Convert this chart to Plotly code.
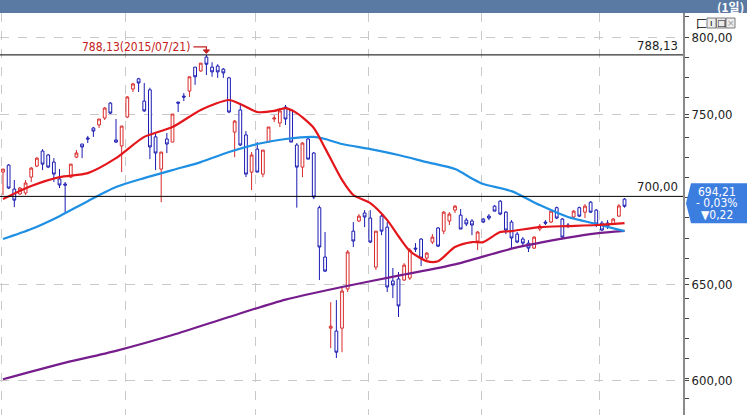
import math
import plotly.graph_objects as go

# ---------------- data ----------------
opens = [714.4, 718.6, 704.3, 701.4, 702.0, 711.4, 718.0, 727.1, 724.7, 720.4,
         710.3, 707.3, 711.4, 723.4, 731.4, 735.1, 741.3, 743.2, 747.5, 756.9,
         733.9, 730.2, 748.1, 765.9, 772.5, 758.2, 765.4, 735.8, 716.2, 734.5,
         732.6, 757.6, 761.4, 764.6, 780.1, 777.6, 786.7, 780.1, 780.8, 778.8,
         773.1, 738.8, 752.6, 737.0, 714.4, 728.3, 713.2, 732.6, 746.9, 744.4,
         754.4, 752.6, 730.8, 717.4, 734.5, 725.9, 693.4, 665.3, 626.8, 625.3,
         626.8, 647.7, 679.9, 685.7, 690.3, 687.4, 659.7, 688.5, 682.2, 652.1,
         653.2, 652.6, 653.7, 670.3, 675.4, 664.7, 673.7, 681.7, 679.9, 685.7,
         692.0, 689.1, 686.2, 685.7, 674.3, 686.8, 688.5, 694.3, 697.2, 690.8,
         685.1, 678.2, 675.4, 673.1, 670.3, 681.1, 685.1, 685.1, 693.4, 686.8,
         683.4, 688.0, 693.4, 690.8, 696.6, 692.0, 684.5, 684.5, 683.9, 688.5,
         698.4]
highs = [716.2, 719.2, 709.7, 705.5, 709.7, 717.4, 723.4, 728.3, 725.3, 722.8,
         716.2, 708.5, 719.2, 727.7, 731.4, 736.4, 741.9, 746.9, 754.4, 757.6,
         746.9, 742.5, 761.4, 769.8, 773.1, 769.8, 766.7, 738.8, 726.5, 738.2,
         750.0, 757.6, 763.3, 773.8, 780.1, 782.7, 788.13, 783.3, 782.0, 779.5,
         773.8, 746.3, 755.7, 739.4, 726.5, 732.6, 727.7, 741.9, 749.4, 753.8,
         755.7, 753.2, 732.0, 732.6, 735.1, 726.5, 694.6, 679.4, 640.6, 641.7,
         648.8, 669.2, 685.1, 689.7, 692.0, 692.0, 679.9, 689.7, 685.1, 659.2,
         657.0, 661.9, 670.3, 673.1, 675.9, 668.1, 678.2, 682.2, 691.4, 690.8,
         694.9, 692.6, 687.4, 686.8, 679.9, 687.4, 689.7, 694.9, 697.8, 691.4,
         686.2, 679.4, 676.5, 674.8, 677.0, 684.0, 686.2, 692.0, 694.0, 687.4,
         684.5, 692.0, 694.0, 695.5, 697.2, 692.6, 685.7, 686.2, 687.4, 695.5,
         699.0]
lows = [700.8, 704.3, 693.7, 700.8, 700.8, 708.5, 717.4, 715.6, 716.8, 708.5,
        704.9, 690.8, 710.8, 722.8, 722.8, 732.0, 735.8, 741.3, 746.3, 750.0,
        732.0, 714.4, 747.5, 764.0, 764.0, 751.3, 722.2, 715.6, 696.6, 725.9,
        732.6, 751.3, 758.2, 760.8, 768.6, 777.0, 775.0, 773.8, 773.1, 773.1,
        750.6, 723.4, 730.2, 711.4, 703.7, 714.4, 711.4, 732.6, 745.0, 741.9,
        743.2, 732.6, 693.4, 711.4, 722.2, 698.4, 652.6, 657.0, 616.4, 611.3,
        614.3, 646.1, 670.9, 685.1, 682.2, 673.1, 658.1, 677.6, 646.1, 642.8,
        632.7, 652.1, 652.6, 668.1, 660.3, 662.5, 672.6, 670.9, 678.2, 683.4,
        690.3, 681.1, 682.8, 677.6, 669.2, 684.5, 686.2, 691.4, 689.1, 678.2,
        670.3, 673.1, 670.9, 668.1, 669.8, 679.9, 683.4, 684.5, 686.8, 676.0,
        681.7, 687.4, 688.0, 687.4, 690.3, 682.2, 679.9, 681.1, 683.4, 688.0,
        693.4]
closes = [716.2, 704.9, 697.8, 704.9, 707.9, 716.8, 722.8, 719.2, 717.4, 713.2,
          706.7, 706.7, 719.2, 725.9, 729.6, 734.5, 739.4, 746.9, 753.8, 750.6,
          732.6, 742.5, 760.8, 769.2, 769.8, 752.0, 729.6, 725.9, 726.5, 731.4,
          750.0, 756.9, 760.8, 773.8, 773.8, 782.7, 782.0, 777.0, 777.0, 776.3,
          751.3, 745.6, 730.8, 713.2, 724.7, 714.4, 727.7, 741.9, 747.5, 752.0,
          746.9, 732.6, 717.4, 732.0, 722.2, 699.6, 670.9, 657.5, 627.8, 614.3,
          646.6, 668.1, 674.3, 688.5, 688.0, 673.7, 679.9, 679.9, 648.8, 649.9,
          638.6, 660.8, 669.2, 669.8, 664.7, 667.5, 676.5, 671.4, 690.8, 689.7,
          694.3, 681.1, 684.0, 683.4, 679.4, 685.1, 687.4, 691.4, 689.7, 680.5,
          676.0, 673.7, 673.1, 670.3, 676.5, 682.8, 684.5, 691.4, 687.4, 676.5,
          682.8, 691.4, 688.5, 694.3, 690.8, 684.0, 680.5, 682.8, 686.8, 694.43,
          694.21]

# moving averages (candle index, value)
ma20_idx = [0, 5, 10, 15, 20, 25, 30, 35, 40, 42, 45, 48, 50, 52, 55, 57, 60, 62,
            65, 68, 70, 72, 75, 77, 80, 83, 85, 88, 90, 95, 100, 105, 110]
ma20_val = [698.4, 706.1, 711.4, 713.8, 722.8, 735.8, 741.9, 752.6, 758.9, 756.3,
            751.3, 752.0, 753.8, 750.6, 741.3, 728.9, 709.7, 700.8, 696.0, 686.2,
            677.0, 668.7, 663.0, 663.0, 670.9, 673.7, 673.7, 679.4, 679.9, 682.2,
            682.8, 683.4, 684.5]
ma60_idx = [0, 5, 10, 15, 20, 25, 30, 35, 40, 45, 50, 55, 57, 60, 65, 70, 75, 80,
            83, 85, 90, 95, 100, 105, 110]
ma60_val = [675.4, 681.1, 688.5, 697.2, 705.5, 710.8, 715.6, 720.4, 726.5, 731.4,
            734.5, 735.8, 734.5, 731.4, 728.3, 724.7, 720.4, 716.2, 710.6, 707.3,
            703.1, 694.9, 688.0, 684.0, 679.9]
ma120_idx = [0, 10, 20, 30, 40, 50, 60, 70, 80, 90, 100, 105, 110]
ma120_val = [600.5, 608.2, 615.0, 623.2, 632.7, 642.0, 648.8, 655.0, 661.2, 670.0,
             676.2, 678.6, 680.0]

month_starts = [0, 22, 45, 65, 85, 106]
peak_value = 788.13
peak_label = "788,13(2015/07/21)"
ref_level = 700.0
last_close = 694.21
change_pct = "- 0,03%"
change_abs = "▼0,22"
ytick_vals = [600, 650, 750, 800]
ytick_text = ["600,00", "650,00", "750,00", "800,00"]
period_label = "(1일)"

# ---------------- styling ----------------
W, H = 747, 415
ML, MR, MT, MB = 0, 64, 13, 0
PW, PH = W - ML - MR, H - MT - MB
RED = "#D92B2B"
BLUE = "#1B1BB3"
MA20_C = "#E3161B"
MA60_C = "#1E8FE3"
MA120_C = "#761C8C"
FONT = "DejaVu Sans Condensed, Liberation Sans Narrow, Arial Narrow, sans-serif"
Y0, Y1 = math.log10(582.8), math.log10(816.3)
X0, X1 = -0.53, 120.35

n = len(closes)
idx = list(range(n))
peak_idx = max(idx, key=lambda i: highs[i])


def ypaper(v):
    return (math.log10(v) - Y0) / (Y1 - Y0)


def px2p(dy):
    return dy / PH


def pyp(py):  # pixel row from top of the page -> paper y
    return (H - MB - py) / PH


# minor tick marks every ~20 px along the price axis (decoration only)
PX_PER_LN = PH / ((Y1 - Y0) * math.log(10))
minor_vals = [800 * math.exp(-20.1 * k / PX_PER_LN) for k in range(-1, 19)]

fig = go.Figure()
fig.add_trace(go.Candlestick(
    x=idx, open=opens, high=highs, low=lows, close=closes,
    increasing=dict(line=dict(color=RED, width=1), fillcolor="white"),
    decreasing=dict(line=dict(color=BLUE, width=1), fillcolor="white"),
    whiskerwidth=0, hoverinfo="skip", showlegend=False))

for xs, ys, c in [(ma120_idx, ma120_val, MA120_C), (ma60_idx, ma60_val, MA60_C),
                  (ma20_idx, ma20_val, MA20_C)]:
    fig.add_trace(go.Scatter(x=xs, y=ys, mode="lines", hoverinfo="skip",
                             line=dict(color=c, width=2.2, shape="spline", smoothing=0.7),
                             showlegend=False))

for lvl in [peak_value, ref_level]:
    fig.add_trace(go.Scatter(x=[X0 - 2, X1 + 2], y=[lvl, lvl], mode="lines",
                             line=dict(color="black", width=1), hoverinfo="skip",
                             showlegend=False))

shapes = []
annotations = []

# header bar
shapes.append(dict(type="rect", xref="paper", yref="paper", x0=-0.01, x1=W / PW + 0.01,
                   y0=1.0, y1=pyp(-2), fillcolor="#5A7AA3", line=dict(width=0),
                   layer="above"))
annotations.append(dict(xref="paper", yref="paper", x=746 / PW, y=pyp(7),
                        text=period_label, showarrow=False, xanchor="right", yanchor="middle",
                        font=dict(family="Noto Sans CJK KR, sans-serif", size=12, color="white",
                                  weight="bold")))

# window icons
annotations.append(dict(xref="paper", yref="paper", x=701 / PW, y=pyp(23),
                        text="匚", showarrow=False, xanchor="center", yanchor="middle",
                        font=dict(family="Noto Sans CJK KR", size=11, color="black")))
for k, g in enumerate(["ı", "□", "×"]):
    xl = 707 + 9.5 * k
    shapes.append(dict(type="rect", xref="paper", yref="paper", x0=xl / PW, x1=(xl + 9) / PW,
                       y0=pyp(28), y1=pyp(18),
                       line=dict(color="#7a7a7a", width=1), fillcolor="#ececec", layer="above"))
    annotations.append(dict(xref="paper", yref="paper", x=(xl + 4.5) / PW,
                            y=pyp(23), text=g, showarrow=False,
                            xanchor="center", yanchor="middle",
                            font=dict(family="DejaVu Sans", size=9,
                                      color="#999" if g == "×" else "black")))

# level labels
for lvl, txt in [(peak_value, "788,13"), (ref_level, "700,00")]:
    annotations.append(dict(xref="paper", yref="y", x=1.0, y=math.log10(lvl),
                            text=txt, showarrow=False, xanchor="right", yanchor="bottom",
                            xshift=-3, yshift=0,
                            font=dict(family=FONT, size=13, color="#222")))

# peak label + elbow arrow
py = ypaper(peak_value)
annotations.append(dict(xref="x", yref="y", x=peak_idx, y=math.log10(peak_value),
                        text=peak_label, showarrow=False, xanchor="right", yanchor="middle",
                        xshift=-14, yshift=8,
                        font=dict(family=FONT, size=12, color="#C42020")))
dx = 13 / (PW / (X1 - X0))
shapes.append(dict(type="path", xref="x", yref="paper",
                   path=f"M {peak_idx - dx},{py + px2p(8)} L {peak_idx},{py + px2p(8)} "
                        f"L {peak_idx},{py + px2p(4)}",
                   line=dict(color="#C42020", width=1.2)))
shapes.append(dict(type="path", xref="x", yref="paper",
                   path=f"M {peak_idx - 0.55},{py + px2p(5)} L {peak_idx + 0.55},{py + px2p(5)} "
                        f"L {peak_idx},{py + px2p(1.5)} Z",
                   line=dict(color="#C42020", width=1), fillcolor="#C42020"))

# last price box
pc = ypaper(last_close) + px2p(3)
h2 = px2p(20)
shapes.append(dict(type="path", xref="paper", yref="paper",
                   path=f"M {686 / PW},{pc} L {691 / PW},{pc + h2} L {750 / PW},{pc + h2} "
                        f"L {750 / PW},{pc - h2} L {691 / PW},{pc - h2} Z",
                   fillcolor="#3C7DE0", line=dict(width=0), layer="above"))
for k, t in enumerate([f"{last_close:.2f}".replace(".", ","), change_pct, change_abs]):
    annotations.append(dict(xref="paper", yref="paper", x=717 / PW, y=pc + px2p(11.5 - 11.5 * k),
                            text=t, showarrow=False, xanchor="center", yanchor="middle",
                            font=dict(family=FONT, size=12, color="white")))

fig.update_layout(
    width=W, height=H, margin=dict(l=ML, r=MR, t=MT, b=MB),
    paper_bgcolor="white", plot_bgcolor="white",
    shapes=shapes, annotations=annotations, showlegend=False,
    xaxis=dict(range=[X0, X1], rangeslider=dict(visible=False), showticklabels=False,
               tickmode="array", tickvals=[m - 0.35 for m in month_starts], ticks="",
               showgrid=True, gridcolor="#C9C9C9", griddash="dash", gridwidth=1,
               zeroline=False, showline=False, fixedrange=True),
    yaxis=dict(type="log", range=[Y0, Y1], side="right", tickmode="array",
               tickvals=ytick_vals, ticktext=ytick_text, ticks="outside", ticklen=4,
               tickcolor="#444", showgrid=True, gridcolor="#C9C9C9", griddash="dash",
               showline=True, linecolor="#8a8a8a", linewidth=2, zeroline=False,
               minor=dict(tickmode="array", tickvals=minor_vals, ticks="outside",
                          ticklen=4, tickcolor="#444", showgrid=False),
               tickfont=dict(family=FONT, size=13, color="#222"), fixedrange=True),
)

fig.write_html("out.html", config={"displayModeBar": False},
               post_script="document.body.style.margin='0';document.body.style.overflow='hidden';")
